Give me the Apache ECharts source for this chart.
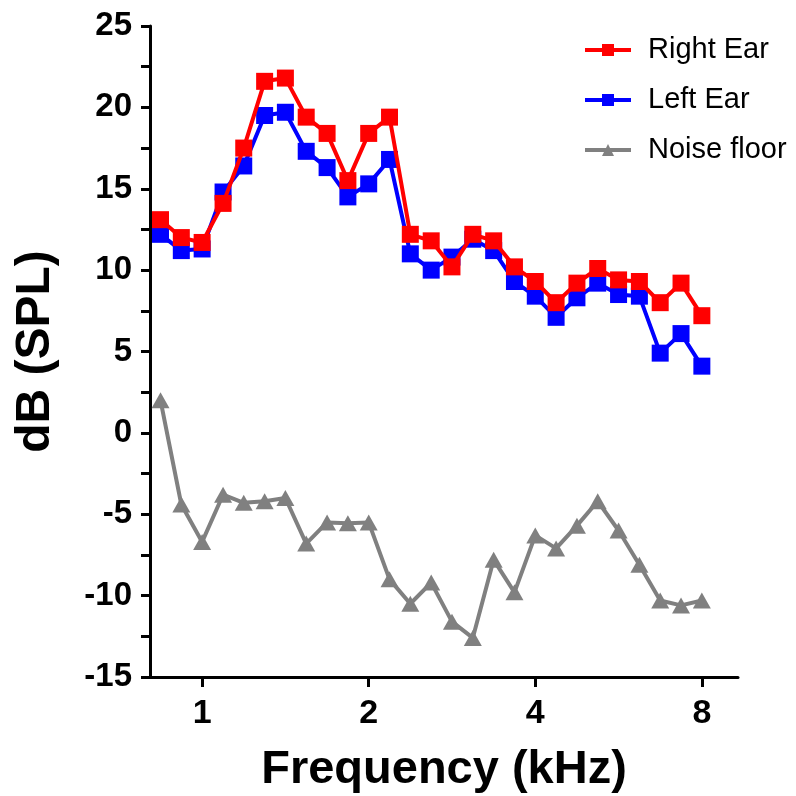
<!DOCTYPE html>
<html>
<head>
<meta charset="utf-8">
<script src="https://cdn.jsdelivr.net/npm/echarts@6/dist/echarts.min.js"></script>
<style>
html,body{margin:0;padding:0;background:#fff;}
#c{width:796px;height:796px;}
</style>
</head>
<body>
<div id="c"></div>
<script>
// Frequencies (kHz), 1/8-octave steps
var freqs = [0.841, 0.917, 1.0, 1.091, 1.189, 1.297, 1.414, 1.542, 1.682, 1.834, 2.0, 2.181, 2.378, 2.594, 2.828, 3.084, 3.364, 3.668, 4.0, 4.362, 4.757, 5.187, 5.657, 6.169, 6.727, 7.336, 8.0];
var rightEar = [13.1, 12.0, 11.7, 14.1, 17.5, 21.6, 21.8, 19.4, 18.4, 15.5, 18.4, 19.4, 12.2, 11.8, 10.2, 12.2, 11.8, 10.2, 9.3, 8.0, 9.2, 10.1, 9.4, 9.3, 8.0, 9.2, 7.2];
var leftEar = [12.2, 11.2, 11.3, 14.8, 16.4, 19.5, 19.7, 17.3, 16.3, 14.5, 15.3, 16.8, 11.0, 10.0, 10.8, 11.9, 11.2, 9.3, 8.4, 7.1, 8.3, 9.2, 8.5, 8.4, 4.9, 6.1, 4.1];
var noiseFloor = [2.0, -4.4, -6.7, -3.8, -4.3, -4.2, -4.0, -6.8, -5.5, -5.55, -5.5, -9.0, -10.5, -9.2, -11.6, -12.6, -7.8, -9.8, -6.3, -7.1, -5.7, -4.2, -6.0, -8.1, -10.3, -10.6, -10.3];
var xTickKHz = [1, 2, 4, 8];
var yTicks = {min: -15, max: 25, step: 5};
var names = ['Right Ear', 'Left Ear', 'Noise floor'];

// x axis is an octave (log2) axis
function oct(f){ return Math.log(f) / Math.LN2; }
function pairs(vals){ return vals.map(function(v, i){ return [oct(freqs[i]), v]; }); }

var chart = echarts.init(document.getElementById('c'), null, {renderer: 'canvas'});
var font = 'Liberation Sans, Arial, Helvetica, sans-serif';
chart.setOption({
  backgroundColor: '#ffffff',
  animation: false,
  grid: {left: 150, right: 58, top: 26, bottom: 119, containLabel: false, outerBoundsMode: 'none'},
  legend: {
    orient: 'vertical',
    left: 578,
    top: 30,
    itemWidth: 46,
    itemHeight: 15,
    itemGap: 20,
    data: names,
    lineStyle: {width: 4},
    textStyle: {fontFamily: font, fontSize: 29, color: '#000', lineHeight: 30, padding: [0, 0, 0, 12]}
  },
  xAxis: {
    type: 'value',
    min: -0.313,
    max: 3.217,
    name: 'Frequency (kHz)',
    nameLocation: 'middle',
    nameGap: 70,
    nameTextStyle: {fontFamily: font, fontSize: 47, fontWeight: 'bold', color: '#000'},
    axisLine: {show: true, onZero: false, lineStyle: {color: '#000', width: 3}},
    axisTick: {show: true, length: 10, lineStyle: {color: '#000', width: 3}, customValues: xTickKHz.map(oct)},
    axisLabel: {
      customValues: xTickKHz.map(oct),
      fontFamily: font, fontSize: 34, fontWeight: 'bold', color: '#000', margin: 20,
      formatter: function(v){ return String(Math.round(Math.pow(2, v))); }
    },
    splitLine: {show: false}
  },
  yAxis: {
    type: 'value',
    min: yTicks.min,
    max: yTicks.max,
    interval: yTicks.step,
    name: 'dB (SPL)',
    nameLocation: 'middle',
    nameGap: 90,
    nameTextStyle: {fontFamily: font, fontSize: 48, fontWeight: 'bold', color: '#000'},
    axisLine: {show: true, onZero: false, lineStyle: {color: '#000', width: 3}},
    axisTick: {show: true, length: 9, lineStyle: {color: '#000', width: 3}},
    minorTick: {show: true, splitNumber: 2, length: 9, lineStyle: {color: '#000', width: 3}},
    axisLabel: {fontFamily: font, fontSize: 33, fontWeight: 'bold', color: '#000', margin: 18},
    splitLine: {show: false}
  },
  series: [
    {
      name: names[0], type: 'line', z: 4, data: pairs(rightEar),
      symbol: 'rect', symbolSize: 17,
      lineStyle: {color: '#ff0000', width: 4},
      itemStyle: {color: '#ff0000'}
    },
    {
      name: names[1], type: 'line', z: 3, data: pairs(leftEar),
      symbol: 'rect', symbolSize: 17,
      lineStyle: {color: '#0000ff', width: 4},
      itemStyle: {color: '#0000ff'}
    },
    {
      name: names[2], type: 'line', z: 2, data: pairs(noiseFloor),
      symbol: 'triangle', symbolSize: [18, 16],
      lineStyle: {color: '#808080', width: 4},
      itemStyle: {color: '#808080'}
    }
  ]
});
</script>
</body>
</html>
